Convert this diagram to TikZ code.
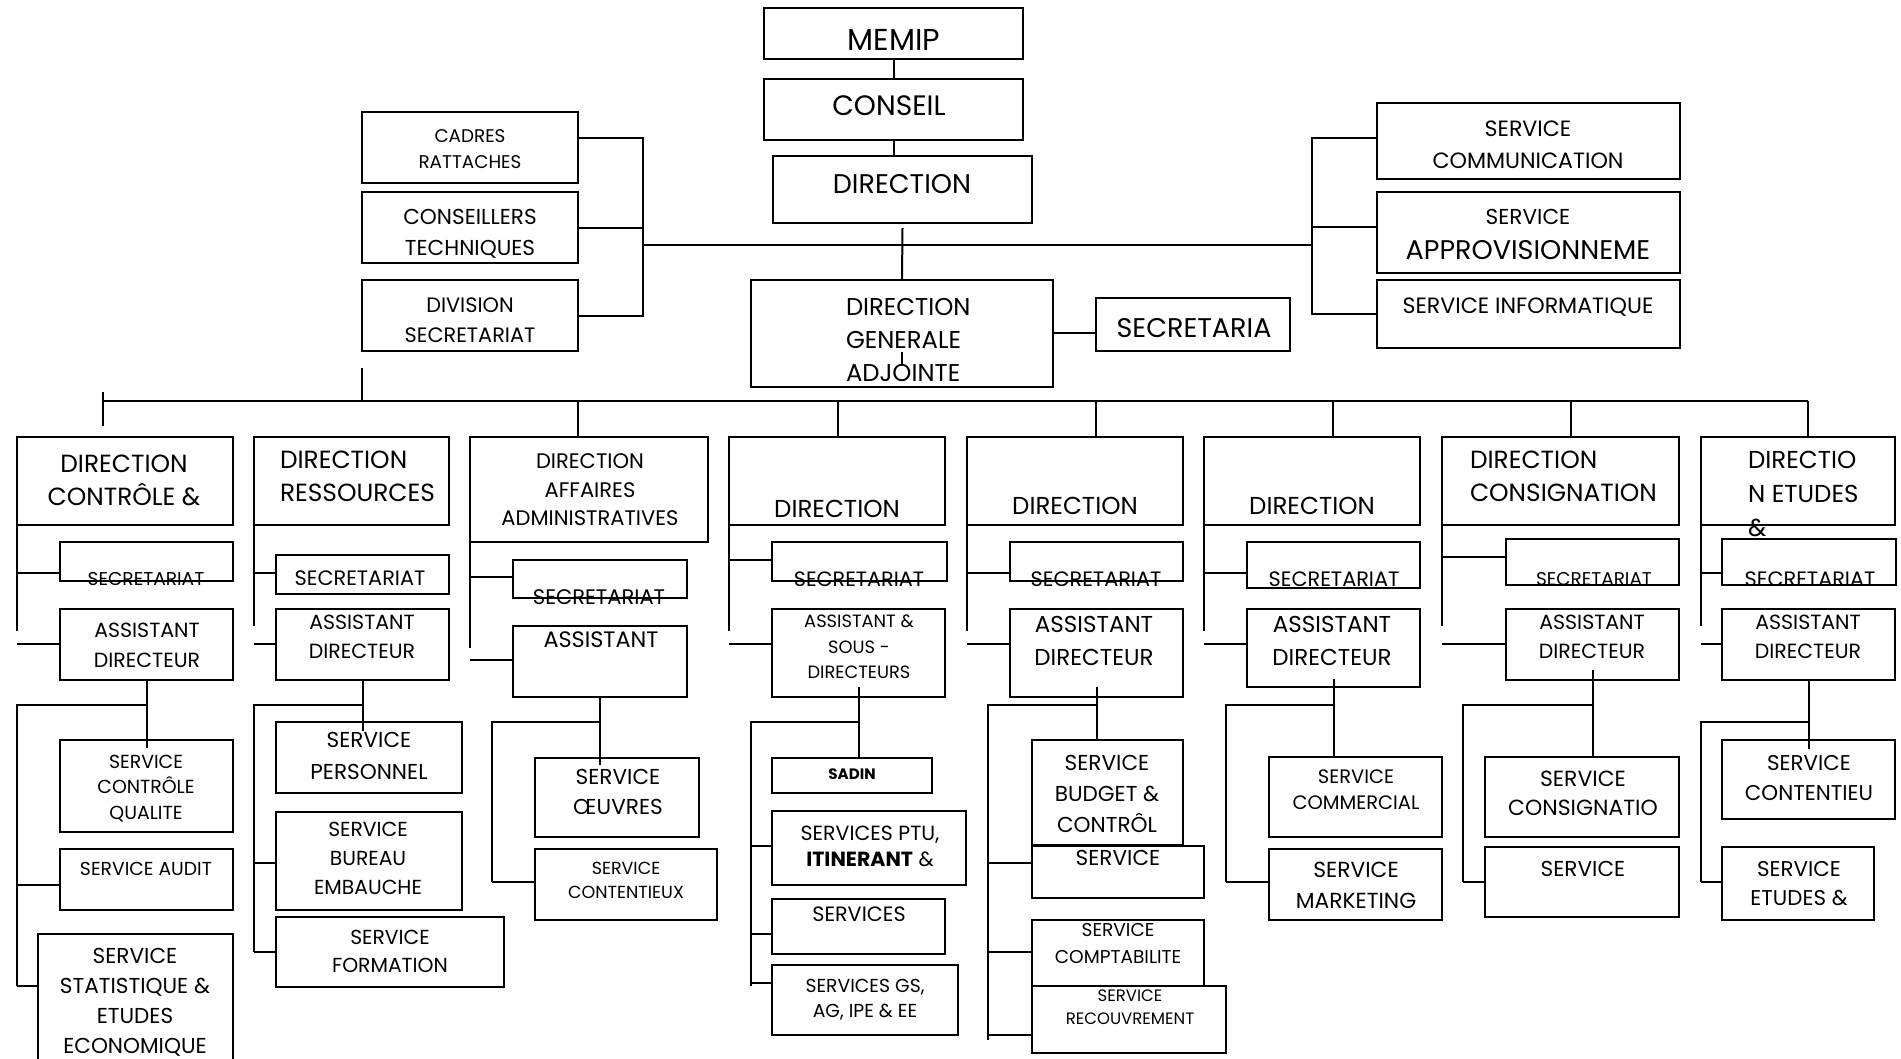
\documentclass[tikz,border=0pt]{standalone}
\usepackage{fontspec}
\setmainfont{Poppins}
\newcommand{\fsz}[2]{\fontsize{\fpeval{1.08*#1}}{#2}\selectfont}

\begin{document}
\begin{tikzpicture}[
		x=1pt, y=-1pt,
		line width=2pt,
		org box/.style={draw, rectangle, inner sep=0pt, outer sep=0pt, anchor=north west},
		org text/.style={anchor=north, align=center, inner sep=0pt},
		left text/.style={anchor=north west, align=left, inner sep=0pt}
		]
	\useasboundingbox (0,0) rectangle (1901,1058);

	% Top of the chart
	\node[org box, minimum width=259, minimum height=51] (memip) at (764,8) {};
	\node[org box, minimum width=259, minimum height=61] (conseil) at (764,79) {};
	\node[org box, minimum width=259, minimum height=67] (direction) at (773,156) {};
	\node[org box, minimum width=216, minimum height=71] (cadres) at (362,112) {};
	\node[org box, minimum width=216, minimum height=71] (conseillers) at (362,192) {};
	\node[org box, minimum width=216, minimum height=71] (division) at (362,280) {};
	\node[org box, minimum width=302, minimum height=107] (dga) at (751,280) {};
	\node[org box, minimum width=194, minimum height=53] (secretaria) at (1096,298) {};
	\node[org box, minimum width=303, minimum height=76] (comm) at (1377,103) {};
	\node[org box, minimum width=303, minimum height=81] (appro) at (1377,192) {};
	\node[org box, minimum width=303, minimum height=68] (info) at (1377,280) {};

	\node[org text, font=\fsz{28}{34}] (t-memip) at (894,28) {MEMIP};
	\node[org text, font=\fsz{26}{30}] (t-conseil) at (889,95) {CONSEIL};
	\node[org text, font=\fsz{25}{30}] (t-direction) at (902,173) {DIRECTION};
	\node[org text, font=\fsz{17}{26}] (t-cadres) at (470,129) {CADRES\\RATTACHES};
	\node[org text, font=\fsz{20}{31}] (t-conseillers) at (470,208) {CONSEILLERS\\TECHNIQUES};
	\node[org text, font=\fsz{19.3}{30}] (t-division) at (470,297) {DIVISION\\SECRETARIAT};
	\node[left text, font=\fsz{22.5}{33}] (t-dga) at (845,297) {DIRECTION\\GENERALE\\ADJOINTE};
	\node[org text, font=\fsz{25}{30}] (t-secretaria) at (1194,317) {SECRETARIA};
	\node[org text, font=\fsz{20.5}{32}] (t-comm) at (1528,120) {SERVICE\\COMMUNICATION};
	\node[org text, font=\fsz{20}{35}] (t-appro) at (1528,208) {SERVICE\\{\fsz{25}{35}APPROVISIONNEME}};
	\node[org text, font=\fsz{20.5}{30}] (t-info) at (1528,297) {SERVICE INFORMATIQUE};

	% Top connectors
	\draw (memip.south) -- (conseil.north);
	\draw (conseil.south) -- (conseil.south |- direction.north);
	\draw ([yshift=-5pt]direction.south) -- (dga.north);
	\draw ([yshift=35pt]dga.south) -- ([yshift=22pt]dga.south);
	\coordinate (bar left) at (643,245);
	\coordinate (bar right) at (1312,245);
	\draw (bar left) -- (bar right);
	\draw ([yshift=9.5pt]cadres.east) -| (bar left |- division.east) -- (division.east);
	\draw (conseillers.east) -- (bar left |- conseillers.east);
	\draw ([yshift=3pt]comm.west) -| (bar right |- info.west) -- (info.west);
	\draw ([yshift=5.5pt]appro.west) -- ++(-65,0);
	\draw ([yshift=-8.5pt]secretaria.west) -- ++(-43,0);

	% Bus to the directions
	\coordinate (bus left) at (103,401);
	\coordinate (bus right) at (1808,401);
	\draw (bus left) -- (bus right);
	\draw ([yshift=9pt]bus left) -- ([yshift=-25pt]bus left);
	\draw ([yshift=-17pt]division.south west) -- (division.south west |- bus left);

	% Column 1
	\node[org box, minimum width=216, minimum height=88] (c1dir) at (17,437) {};
	\node[org box, minimum width=173, minimum height=39] (c1sec) at (60,542) {};
	\node[org box, minimum width=173, minimum height=71] (c1ass) at (60,609) {};
	\node[org box, minimum width=173, minimum height=92] (c1qual) at (60,740) {};
	\node[org box, minimum width=173, minimum height=61] (c1audit) at (60,849) {};
	\node[org box, minimum width=195, minimum height=140] (c1stat) at (38,934) {};
	\node[org text, font=\fsz{23}{33}] (t-c1dir) at (124,454) {DIRECTION\\CONTRÔLE \&};
	\node[org text, font=\fsz{17.2}{20}] (t-c1sec) at (146,571) {SECRETARIAT};
	\node[org text, font=\fsz{19}{30}] (t-c1ass) at (147,622) {ASSISTANT\\DIRECTEUR};
	\node[org text, font=\fsz{17.5}{25.5}] (t-c1qual) at (146,754) {SERVICE\\CONTRÔLE\\QUALITE};
	\node[org text, font=\fsz{17.4}{20}] (t-c1audit) at (146,861) {SERVICE AUDIT};
	\node[org text, font=\fsz{20}{30}] (t-c1stat) at (135,947) {SERVICE\\STATISTIQUE \&\\ETUDES\\ECONOMIQUE};
	\draw (c1ass.south) -- (c1ass.south |- 0,748);
	\draw (c1ass.south |- 0,705) -- (17,705) -- (17,986);

	% Column 2
	\node[org box, minimum width=195, minimum height=88] (c2dir) at (254,437) {};
	\node[org box, minimum width=173, minimum height=39] (c2sec) at (276,555) {};
	\node[org box, minimum width=173, minimum height=71] (c2ass) at (276,609) {};
	\node[org box, minimum width=186, minimum height=71] (c2pers) at (276,722) {};
	\node[org box, minimum width=186, minimum height=98] (c2bur) at (276,812) {};
	\node[org box, minimum width=228, minimum height=70] (c2form) at (276,917) {};
	\node[left text, font=\fsz{23}{33}] (t-c2dir) at (279,450) {DIRECTION\\RESSOURCES};
	\node[org text, font=\fsz{19.3}{22}] (t-c2sec) at (360,570) {SECRETARIAT};
	\node[org text, font=\fsz{19}{29}] (t-c2ass) at (362,614) {ASSISTANT\\DIRECTEUR};
	\node[org text, font=\fsz{20}{32}] (t-c2pers) at (369,731) {SERVICE\\PERSONNEL};
	\node[org text, font=\fsz{18.8}{29}] (t-c2bur) at (368,821) {SERVICE\\BUREAU\\EMBAUCHE};
	\node[org text, font=\fsz{18.8}{28}] (t-c2form) at (390,929) {SERVICE\\FORMATION};
	\draw (c2ass.south) -- (c2ass.south |- 0,731);
	\draw (c2ass.south |- 0,705) -- (254,705) -- (254,952);

	% Column 3
	\node[org box, minimum width=238, minimum height=105] (c3dir) at (470,437) {};
	\node[org box, minimum width=174, minimum height=38] (c3sec) at (513,560) {};
	\node[org box, minimum width=174, minimum height=71] (c3ass) at (513,626) {};
	\node[org box, minimum width=164, minimum height=79] (c3oeuv) at (535,758) {};
	\node[org box, minimum width=182, minimum height=71] (c3cont) at (535,849) {};
	\node[org text, font=\fsz{19.5}{28.5}] (t-c3dir) at (590,453) {DIRECTION\\AFFAIRES\\ADMINISTRATIVES};
	\node[org text, font=\fsz{19.5}{22}] (t-c3sec) at (599,589) {SECRETARIAT};
	\node[org text, font=\fsz{20.7}{24}] (t-c3ass) at (601,631) {ASSISTANT};
	\node[org text, font=\fsz{20}{30}] (t-c3oeuv) at (618,768) {SERVICE\\ŒUVRES};
	\node[org text, font=\fsz{16.2}{24}] (t-c3cont) at (626,861) {SERVICE\\CONTENTIEUX};
	\draw (c3ass.south) -- (c3ass.south |- 0,765);
	\draw (c3ass.south |- 0,722) -- (492,722) -- (492,882);

	% Column 4
	\node[org box, minimum width=216, minimum height=88] (c4dir) at (729,437) {};
	\node[org box, minimum width=175, minimum height=39] (c4sec) at (772,542) {};
	\node[org box, minimum width=173, minimum height=88] (c4ass) at (772,609) {};
	\node[org box, minimum width=160, minimum height=35] (sadin) at (772,758) {};
	\node[org box, minimum width=194, minimum height=74] (ptu) at (772,811) {};
	\node[org box, minimum width=173, minimum height=55] (c4svc) at (772,899) {};
	\node[org box, minimum width=186, minimum height=70] (gs) at (772,965) {};
	\node[org text, font=\fsz{22.7}{26}] (t-c4dir) at (837,499) {DIRECTION};
	\node[org text, font=\fsz{19.2}{22}] (t-c4sec) at (859,571) {SECRETARIAT};
	\node[org text, font=\fsz{16.5}{25.6}] (t-c4ass) at (859,614) {ASSISTANT \&\\SOUS -\\DIRECTEURS};
	\node[org text, font=\bfseries\fsz{14}{16}] (t-sadin) at (852,768) {SADIN};
	\node[org text, font=\fsz{19}{25.6}] (t-ptu) at (870,825) {SERVICES PTU,\\\textbf{ITINERANT} \&};
	\node[org text, font=\fsz{19.2}{22}] (t-c4svc) at (859,906) {SERVICES};
	\node[org text, font=\fsz{17.4}{25.6}] (t-gs) at (865,978) {SERVICES GS,\\AG, IPE \& EE};
	\draw (c4ass.south |- 0,687) -- (c4ass.south |- sadin.north);
	\draw (c4ass.south |- 0,722) -- (751,722) -- (751,986);

	% Column 5
	\node[org box, minimum width=216, minimum height=88] (c5dir) at (967,437) {};
	\node[org box, minimum width=173, minimum height=39] (c5sec) at (1010,542) {};
	\node[org box, minimum width=173, minimum height=88] (c5ass) at (1010,609) {};
	\node[org box, minimum width=151, minimum height=105] (budget) at (1032,740) {};
	\node[org box, minimum width=172, minimum height=52] (c5svc) at (1032,846) {};
	\node[org box, minimum width=172, minimum height=66] (compta) at (1032,920) {};
	\node[org box, minimum width=194, minimum height=67] (recouv) at (1032,986) {};
	\node[org text, font=\fsz{22.7}{26}] (t-c5dir) at (1075,496) {DIRECTION};
	\node[org text, font=\fsz{19.3}{22}] (t-c5sec) at (1096,571) {SECRETARIAT};
	\node[org text, font=\fsz{21.3}{33}] (t-c5ass) at (1094,615) {ASSISTANT\\DIRECTEUR};
	\node[org text, font=\fsz{20}{31}] (t-budget) at (1107,754) {SERVICE\\BUDGET \&\\CONTRÔL};
	\node[org text, font=\fsz{20}{22}] (t-c5svc) at (1118,849) {SERVICE};
	\node[org text, font=\fsz{17.2}{27}] (t-compta) at (1118,922) {SERVICE\\COMPTABILITE};
	\node[org text, font=\fsz{15.3}{22.6}] (t-recouv) at (1130,989) {SERVICE\\RECOUVREMENT};
	\draw (c5ass.south |- 0,687) -- (c5ass.south |- budget.north);
	\draw (c5ass.south |- 0,705) -- (988,705) -- (988,1040);

	% Column 6
	\node[org box, minimum width=216, minimum height=88] (c6dir) at (1204,437) {};
	\node[org box, minimum width=173, minimum height=46] (c6sec) at (1247,542) {};
	\node[org box, minimum width=173, minimum height=78] (c6ass) at (1247,609) {};
	\node[org box, minimum width=173, minimum height=80] (comm2) at (1269,757) {};
	\node[org box, minimum width=173, minimum height=71] (mark) at (1269,849) {};
	\node[org text, font=\fsz{22.7}{26}] (t-c6dir) at (1312,496) {DIRECTION};
	\node[org text, font=\fsz{19.3}{22}] (t-c6sec) at (1334,571) {SECRETARIAT};
	\node[org text, font=\fsz{21.3}{33}] (t-c6ass) at (1332,615) {ASSISTANT\\DIRECTEUR};
	\node[org text, font=\fsz{18}{25.6}] (t-comm2) at (1356,769) {SERVICE\\COMMERCIAL};
	\node[org text, font=\fsz{20.2}{31}] (t-mark) at (1356,861) {SERVICE\\MARKETING};
	\draw (c6ass.south |- 0,679) -- (c6ass.south |- comm2.north);
	\draw (c6ass.south |- 0,705) -- (1226,705) -- (1226,882);

	% Column 7
	\node[org box, minimum width=237, minimum height=88] (c7dir) at (1442,437) {};
	\node[org box, minimum width=173, minimum height=46] (c7sec) at (1506,539) {};
	\node[org box, minimum width=173, minimum height=71] (c7ass) at (1506,609) {};
	\node[org box, minimum width=194, minimum height=80] (consi) at (1485,757) {};
	\node[org box, minimum width=194, minimum height=70] (c7svc) at (1485,847) {};
	\node[left text, font=\fsz{23}{33}] (t-c7dir) at (1469,450) {DIRECTION\\CONSIGNATION};
	\node[org text, font=\fsz{17.1}{20}] (t-c7sec) at (1594,571) {SECRETARIAT};
	\node[org text, font=\fsz{19}{29}] (t-c7ass) at (1592,614) {ASSISTANT\\DIRECTEUR};
	\node[org text, font=\fsz{20.3}{29.4}] (t-consi) at (1583,770) {SERVICE\\CONSIGNATIO};
	\node[org text, font=\fsz{20}{22}] (t-c7svc) at (1583,860) {SERVICE};
	\draw (c7ass.south |- 0,670) -- (c7ass.south |- consi.north);
	\draw (c7ass.south |- 0,705) -- (1463,705) -- (1463,882);

	% Column 8
	\node[org box, minimum width=194, minimum height=88] (c8dir) at (1701,437) {};
	\node[org box, minimum width=174, minimum height=46] (c8sec) at (1722,539) {};
	\node[org box, minimum width=173, minimum height=71] (c8ass) at (1722,609) {};
	\node[org box, minimum width=173, minimum height=79] (c8cont) at (1722,740) {};
	\node[org box, minimum width=152, minimum height=73] (etudes) at (1722,847) {};
	\node[left text, font=\fsz{22.7}{34}] (t-c8dir) at (1747,450) {DIRECTIO\\N ETUDES\\\&};
	\node[org text, font=\fsz{19.3}{22}] (t-c8sec) at (1810,571) {SECRETARIAT};
	\node[org text, font=\fsz{19}{29}] (t-c8ass) at (1808,614) {ASSISTANT\\DIRECTEUR};
	\node[org text, font=\fsz{19.8}{30}] (t-c8cont) at (1809,754) {SERVICE\\CONTENTIEU};
	\node[org text, font=\fsz{19.8}{29}] (t-etudes) at (1799,860) {SERVICE\\ETUDES \&};
	\draw (c8ass.south) -- (c8ass.south |- 0,749);
	\draw (c8ass.south |- 0,722) -- (1701,722) -- (1701,882);

	% Drops from the bus
	\foreach \x/\n in {578/c3dir, 838/c4dir, 1096/c5dir, 1333/c6dir, 1571/c7dir, 1808/c8dir}{
		\draw (bus left -| \x,0) -- (\n.north -| \x,0);
	}

	% Spines under each direction
	\foreach \n/\l in {c1dir/106, c2dir/101, c3dir/106, c4dir/106, c5dir/106, c6dir/106, c7dir/101, c8dir/101}{
		\draw (\n.south west) -- ++(0,\l);
	}

	% Branches to the boxes
	\foreach \x/\y/\n in {17/573/c1sec, 17/644/c1ass, 17/885/c1audit, 17/986/c1stat,
			254/573/c2sec, 254/644/c2ass, 254/863/c2bur, 254/952/c2form,
			470/577/c3sec, 470/660/c3ass, 492/882/c3cont,
			729/560/c4sec, 729/644/c4ass, 751/846/ptu, 751/934/c4svc, 751/983/gs,
			967/573/c5sec, 967/644/c5ass, 988/863/c5svc, 988/952/compta, 988/1035/recouv,
			1204/573/c6sec, 1204/644/c6ass, 1226/882/mark,
			1442/557/c7sec, 1442/644/c7ass, 1463/882/c7svc,
			1701/573/c8sec, 1701/644/c8ass, 1701/882/etudes}{
		\draw (\x,\y) -- (\n.west |- 0,\y);
	}

\end{tikzpicture}
\end{document}
